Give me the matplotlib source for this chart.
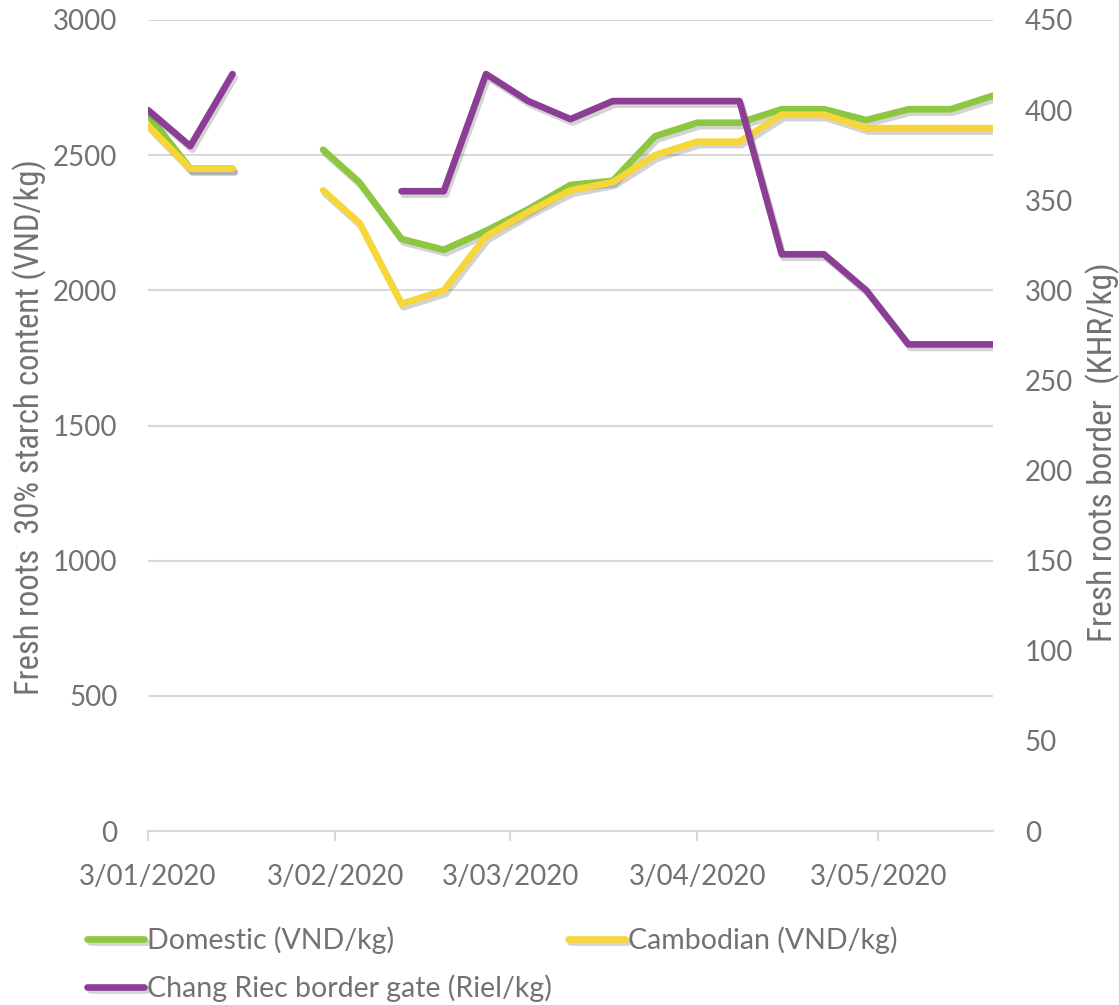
import datetime as dt

import matplotlib
matplotlib.use("Agg")
import matplotlib.dates as mdates
import matplotlib.patheffects as pe
import matplotlib.pyplot as plt
from matplotlib import font_manager
from matplotlib.font_manager import FontProperties
import numpy as np

# weekly price observations (nan = no quote, breaks the line)
dates = [dt.date(2020, 1, 3), dt.date(2020, 1, 10), dt.date(2020, 1, 17),
         dt.date(2020, 1, 24), dt.date(2020, 2, 1), dt.date(2020, 2, 7),
         dt.date(2020, 2, 14), dt.date(2020, 2, 21), dt.date(2020, 2, 28),
         dt.date(2020, 3, 6), dt.date(2020, 3, 13), dt.date(2020, 3, 20),
         dt.date(2020, 3, 27), dt.date(2020, 4, 3), dt.date(2020, 4, 10),
         dt.date(2020, 4, 17), dt.date(2020, 4, 24), dt.date(2020, 5, 1),
         dt.date(2020, 5, 8), dt.date(2020, 5, 15), dt.date(2020, 5, 22)]
nan = np.nan
domestic = [2650, 2450, 2450, nan, 2520, 2400, 2190, 2150, 2220, 2300, 2390,
            2405, 2570, 2620, 2620, 2670, 2670, 2630, 2670, 2670, 2720]
cambodian = [2610, 2450, 2450, nan, 2370, 2250, 1950, 2000, 2200, 2290, 2370,
             2400, 2500, 2550, 2550, 2650, 2650, 2600, 2600, 2600, 2600]
chang_riec = [400, 380, 420, nan, nan, nan, 355, 355, 420, 405, 395,
              405, 405, 405, 405, 320, 320, 300, 270, 270, 270]

month_ticks = [dt.date(2020, m, 3) for m in range(1, 6)]
month_labels = ["3/01/2020", "3/02/2020", "3/03/2020", "3/04/2020", "3/05/2020"]

GREEN = "#8DC63F"
YELLOW = "#F7D63A"
PURPLE = "#8C3E96"
TXT = "#767171"
GRID = "#D9D9D9"

plt.rcParams["font.family"] = ["Lato", "DejaVu Sans"]


def narrow_font():
    """Pick a condensed/narrow sans face for the axis titles, if any is installed."""
    prefs = ["Liberation Sans Narrow", "Roboto Condensed", "Open Sans Condensed",
             "Noto Sans", "Open Sans", "Roboto", "DejaVu Sans"]
    cands = [f for f in font_manager.fontManager.ttflist
             if f.style == "normal" and f.weight in (300, 400, "normal", "light")
             and (f.stretch not in ("normal", 500)
                  or "Narrow" in f.name or "Condensed" in f.name
                  or "Condensed" in f.fname or "Narrow" in f.fname)]
    for name in prefs:
        for f in cands:
            if f.name == name:
                return FontProperties(fname=f.fname)
    if cands:
        return FontProperties(fname=cands[0].fname)
    return FontProperties(family="Lato")


fig = plt.figure(figsize=(11.19, 10.05), dpi=100)
ax = fig.add_axes([0.1323, 0.1731, 0.7551, 0.8070])
ax2 = ax.twinx()

shadow = [pe.SimpleLineShadow(offset=(1.5, -2.5), shadow_color="#505050", alpha=0.25),
          pe.Normal()]
lw = 4.8
x = mdates.date2num(dates)
l1, = ax.plot(x, domestic, color=GREEN, lw=lw, solid_capstyle="round",
              solid_joinstyle="round", path_effects=shadow,
              label="Domestic (VND/kg)")
l2, = ax.plot(x, cambodian, color=YELLOW, lw=lw, solid_capstyle="round",
              solid_joinstyle="round", path_effects=shadow,
              label="Cambodian (VND/kg)")
l3, = ax2.plot(x, chang_riec, color=PURPLE, lw=lw, solid_capstyle="round",
               solid_joinstyle="round", path_effects=shadow,
               label="Chang Riec border gate (Riel/kg)")

ax.set_xlim(mdates.date2num(dt.date(2020, 1, 3)), mdates.date2num(dt.date(2020, 5, 22)))
ax.set_ylim(0, 3000)
ax2.set_ylim(0, 450)
ax.set_yticks(range(0, 3001, 500))
ax2.set_yticks(range(0, 451, 50))

ax.set_xticks(mdates.date2num(month_ticks))
ax.set_xticklabels(month_labels)

ax.grid(axis="y", color=GRID, lw=1.5)
ax.set_axisbelow(True)
for a in (ax, ax2):
    for side in ("left", "right", "top"):
        a.spines[side].set_visible(False)
    a.spines["bottom"].set_color(GRID)
    a.spines["bottom"].set_linewidth(1.5)

ax.tick_params(axis="x", colors=GRID, length=7, width=1.5, pad=17,
               labelsize=20, labelcolor=TXT)
ax.tick_params(axis="y", length=0, pad=22, labelsize=20, labelcolor=TXT)
ax2.tick_params(axis="y", length=0, pad=23, labelsize=20, labelcolor=TXT)

# axis titles in a narrow face, sized so each spans its run along the axis
tfont = narrow_font()
ytitles = [
    (ax, "Fresh roots  30% starch content (VND/kg)", 30, 427, 535),
    (ax2, "Fresh roots border  (KHR/kg)", 1103, 452, 431),
]
W, H = fig.bbox.width, fig.bbox.height
renderer = fig.canvas.get_renderer()
for a, text, px, py, span in ytitles:
    t = fig.text(px / W, 1 - py / H, text, rotation=90, ha="center", va="center",
                 color=TXT, fontproperties=tfont.copy())
    t.set_fontsize(20)
    ext = t.get_window_extent(renderer)
    t.set_fontsize(min(24, 20 * span / ext.height))

fig.legend([l1, l3, l2], [l1.get_label(), l3.get_label(), l2.get_label()],
           ncol=2, loc="lower left", bbox_to_anchor=(0.068, -0.008),
           frameon=False, fontsize=20.5, labelcolor=TXT, handlelength=2.0,
           handletextpad=0.1, columnspacing=0.55, labelspacing=0.72,
           borderaxespad=0)

fig.savefig("out.png", dpi=100)
